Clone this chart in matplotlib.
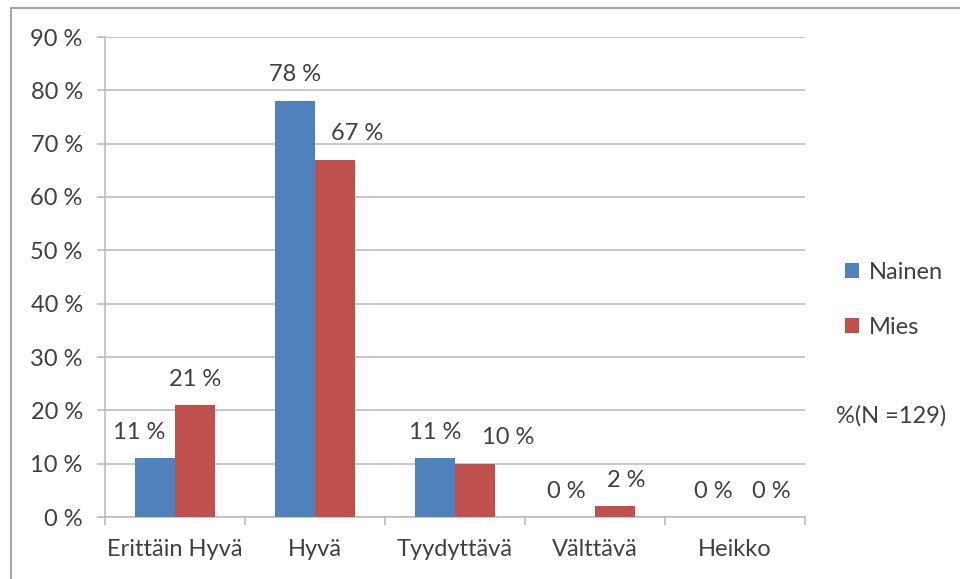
import numpy as np
import matplotlib.pyplot as plt
from matplotlib.patches import Rectangle

categories = ["Erittäin Hyvä", "Hyvä", "Tyydyttävä", "Välttävä", "Heikko"]
nainen = [11, 78, 11, 0, 0]
mies = [21, 67, 10, 2, 0]
series_names = ["Nainen", "Mies"]
note = "%(N =129)"

# horizontal nudges of the data labels (pixels), as Excel placed them
nudge_nainen = [-16, 0, 0, -9, -2]
nudge_mies = [0, 22, 33, 11, 16]

BLUE = "#4F81BD"
RED = "#C0504D"
TXT = "#404040"
GRID = "#BEBEBE"
FS = 17

plt.rcParams["font.family"] = ["Lato", "DejaVu Sans"]

fig = plt.figure(figsize=(9.6, 5.79), dpi=100)
ax = fig.add_axes([105 / 960, 1 - 517 / 579, 700 / 960, 480 / 579])

x = np.arange(len(categories))
w = 40 / 140
b1 = ax.bar(x - w / 2, nainen, w, color=BLUE, label=series_names[0], zorder=3)
b2 = ax.bar(x + w / 2, mies, w, color=RED, label=series_names[1], zorder=3)

for bars, vals, nudges in ((b1, nainen, nudge_nainen), (b2, mies, nudge_mies)):
    for r, v, dx in zip(bars, vals, nudges):
        ax.annotate(f"{v} %", (r.get_x() + r.get_width() / 2, v),
                    xytext=(dx, 26), textcoords="offset pixels",
                    ha="center", va="center", fontsize=FS, color=TXT)

ax.set_xlim(-0.5, len(categories) - 0.5)
ax.set_ylim(0, 90)
yt = np.arange(0, 91, 10)
ax.set_yticks(yt)
ax.set_yticklabels([f"{v} %" for v in yt])
ax.yaxis.grid(True, color=GRID, linewidth=1.2, zorder=0)

ax.set_xticks(np.arange(-0.5, len(categories), 1))
ax.set_xticklabels([])
ax.set_xticks(x, minor=True)
ax.set_xticklabels(categories, minor=True)
ax.tick_params(axis="x", which="minor", length=0, pad=16, labelsize=FS, labelcolor=TXT)
ax.tick_params(axis="x", which="major", length=6, color=GRID, width=1.2)
ax.tick_params(axis="y", length=6, color=GRID, width=1.2, labelsize=FS,
               labelcolor=TXT, pad=10)

for s in ("top", "right"):
    ax.spines[s].set_visible(False)
for s in ("left", "bottom"):
    ax.spines[s].set_color(GRID)
    ax.spines[s].set_linewidth(1.2)

fig.legend(handles=[b1, b2], loc="upper left", bbox_to_anchor=(845 / 960, 1 - 262 / 579),
           frameon=False, fontsize=FS, labelcolor=TXT, handlelength=0.6,
           handleheight=0.6, handletextpad=0.4, labelspacing=1.45,
           borderaxespad=0, borderpad=0)

fig.text(836 / 960, 1 - 416 / 579, note, fontsize=FS, color=TXT, va="center", ha="left")

fig.patches.append(Rectangle((11 / 960, -0.1), 1.2, 1 - 8 / 579 + 0.1,
                             transform=fig.transFigure, fill=False,
                             edgecolor="#A6A6A6", linewidth=1.5))

fig.savefig("out.png", dpi=100)
